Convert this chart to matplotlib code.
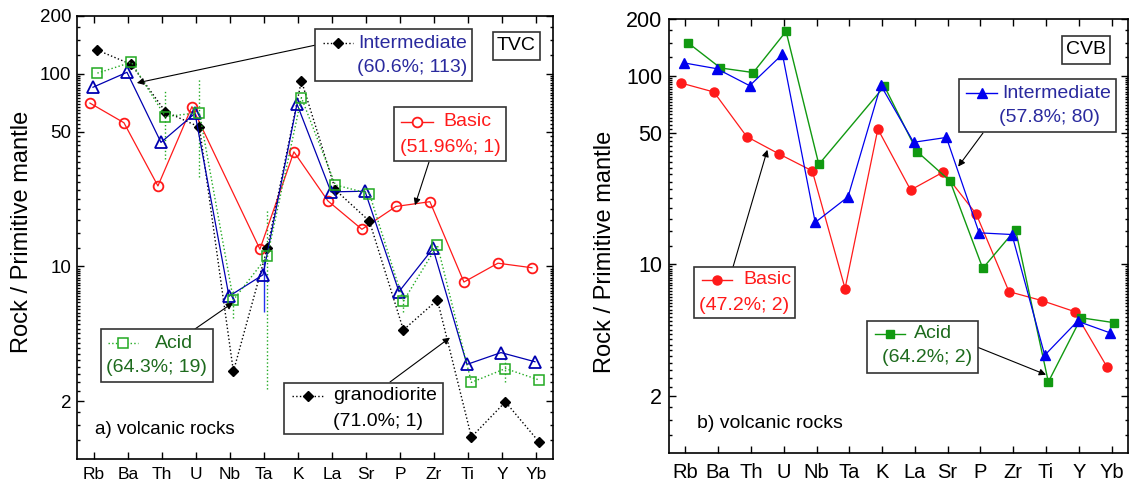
import numpy as np
import matplotlib
matplotlib.use("Agg")
import matplotlib.pyplot as plt
from matplotlib.patches import Rectangle
from matplotlib.lines import Line2D
from matplotlib.ticker import FixedLocator, LogLocator, FuncFormatter, NullFormatter

plt.rcParams['font.family'] = ['Liberation Sans', 'DejaVu Sans']

# element order on both spider diagrams
elements = ["Rb", "Ba", "Th", "U", "Nb", "Ta", "K", "La", "Sr", "P", "Zr", "Ti", "Y", "Yb"]

# a) TVC volcanic rocks (normalised to primitive mantle)
tvc_basic = [70.6, 55.8, 26.2, 67.6, np.nan, 12.3, 39.4, 21.9, 15.6, 20.5, 21.7, 8.3, 10.4, 9.85]
tvc_inter = [85.3, 102, 44.1, 62.4, 7.0, 9.05, 69.8, 24.4, 24.6, 7.4, 12.4, 3.10, 3.57, 3.20]
tvc_acid = [101, 115, 60, 63, 6.7, 11.3, 75.3, 26.5, 23.9, 6.6, 12.9, 2.50, 2.95, 2.57]
tvc_grano = [133, 112, 63.7, 53, 2.85, 12.5, 92.3, 25, 17.2, 4.68, 6.7, 1.30, 1.98, 1.22]
# error ranges (low, high) drawn as thin vertical bars
tvc_acid_lo = [np.nan, np.nan, 36, 29, 5.4, 2.3, np.nan, np.nan, np.nan, 5.8, np.nan, np.nan, 2.5, np.nan]
tvc_acid_hi = [np.nan, np.nan, 83, 95, 7.5, 20, np.nan, np.nan, np.nan, 7.3, np.nan, np.nan, 3.5, np.nan]
tvc_inter_lo = [np.nan] * 5 + [5.8] + [np.nan] * 8
tvc_inter_hi = [np.nan] * 5 + [10.9] + [np.nan] * 8

# b) CVB volcanic rocks
cvb_basic = [91.5, 82, 47.6, 38.4, 31.3, 7.45, 52.2, 24.8, 30.9, 18.5, 7.17, 6.43, 5.62, 2.84]
cvb_inter = [117, 109, 88.6, 130, 16.7, 22.8, 89, 44.4, 47.1, 14.7, 14.4, 3.3, 5.0, 4.33]
cvb_acid = [150, 110, 104, 172, 33.9, np.nan, 88, 39.6, 27.7, 9.53, 15.3, 2.38, 5.21, 4.91]

W, H = 1138, 492
fig = plt.figure(figsize=(W / 100, H / 100), dpi=100)


def fx(x):
    return x / W


def fy(y):
    return 1 - y / H


def series(ax, vals, off, **kw):
    v = np.array(vals, dtype=float)
    x = np.arange(len(v)) + off
    m = ~np.isnan(v)
    ax.plot(x[m], v[m], **kw)


def errbars(ax, lo, hi, off, **kw):
    lo = np.array(lo, dtype=float)
    hi = np.array(hi, dtype=float)
    x = np.arange(len(lo)) + off
    m = ~np.isnan(lo)
    ax.vlines(x[m], lo[m], hi[m], **kw)


def setup(ax, tick_fs, x_fs, pad_y, pad_x):
    ax.set_yscale('log')
    ax.set_ylim(1, 200)
    ax.set_xlim(-0.5, len(elements) - 0.5)
    ax.set_xticks(range(len(elements)))
    ax.set_xticklabels(elements, fontsize=x_fs)
    ax.yaxis.set_major_locator(FixedLocator([2, 10, 50, 100, 200]))
    ax.yaxis.set_major_formatter(FuncFormatter(lambda v, p: f"{v:g}"))
    ax.yaxis.set_minor_locator(LogLocator(base=10, subs=np.arange(1.25, 10, 0.25), numticks=200))
    ax.yaxis.set_minor_formatter(NullFormatter())
    ax.tick_params(which='both', direction='in', top=True, right=True, width=1)
    ax.tick_params(which='major', length=5)
    ax.tick_params(which='minor', length=2.5)
    ax.tick_params(axis='y', labelsize=tick_fs, pad=pad_y)
    ax.tick_params(axis='x', pad=pad_x)
    for s in ax.spines.values():
        s.set_linewidth(1.2)


def legend_box(rect, handle, lines, fs=14):
    x0, y0, x1, y1 = rect
    fig.patches.append(Rectangle((fx(x0), fy(y1)), fx(x1) - fx(x0), fy(y0) - fy(y1),
                                 transform=fig.transFigure, fc='white', ec='#333333', lw=1.2, zorder=5))
    if handle is not None:
        (hx0, hx1, hy), line_kw, mark_kw = handle
        fig.lines.append(Line2D([fx(hx0), fx(hx1)], [fy(hy), fy(hy)], transform=fig.transFigure,
                                zorder=6, **line_kw))
        fig.lines.append(Line2D([fx((hx0 + hx1) / 2)], [fy(hy)], transform=fig.transFigure,
                                zorder=7, linestyle='none', **mark_kw))
    for (tx, ty, s, ha, c) in lines:
        fig.text(fx(tx), fy(ty), s, ha=ha, va='center', color=c, fontsize=fs, zorder=8)


def arrow(ax, xy, start):
    ax.annotate('', xy=xy, xycoords='data', xytext=(fx(start[0]), fy(start[1])),
                textcoords='figure fraction',
                arrowprops=dict(arrowstyle='-|>', color='black', lw=0.8, mutation_scale=10,
                                shrinkA=0, shrinkB=0), zorder=4)


# ---------------- panel a) TVC ----------------
ax1 = fig.add_axes([fx(77), fy(459), fx(553) - fx(77), fy(16) - fy(459)])
c_red, c_blue, c_green = '#ff1a1a', '#0000b0', '#22aa22'
errbars(ax1, tvc_acid_lo, tvc_acid_hi, 0.09, colors=c_green, linestyles=':', lw=1)
errbars(ax1, tvc_inter_lo, tvc_inter_hi, 0.0, colors='#2233ee', lw=1)
series(ax1, tvc_basic, -0.12, color=c_red, lw=0.9, marker='o', mfc='none', mec=c_red, ms=7, mew=1.3)
series(ax1, tvc_grano, 0.1, color='black', lw=1, ls=':', marker='D', ms=5, mfc='black', mec='black')
series(ax1, tvc_inter, -0.03, color=c_blue, lw=0.9, marker='^', mfc='none', mec=c_blue, ms=8, mew=1.3)
series(ax1, tvc_acid, 0.1, color=c_green, lw=1, ls=':', marker='s', mfc='none', mec=c_green, ms=7, mew=1.1)
setup(ax1, 13.5, 12.5, 4, 6)

arrow(ax1, (1.26, 89.8), (316, 45))
arrow(ax1, (9.44, 20.8), (429, 162))
arrow(ax1, (4.09, 6.49), (195, 329))
arrow(ax1, (10.47, 4.27), (390, 382))

t_blue, t_green = '#2a2a9e', '#1e6b1e'
legend_box((493, 32, 540, 60), None, [(516.5, 46, "TVC", 'center', 'black')])
legend_box((315, 29, 472, 81),
           ((323, 353, 43), dict(color='black', ls=':', lw=1),
            dict(marker='D', ms=5, color='black')),
           [(467, 43, "Intermediate", 'right', t_blue), (467, 67, "(60.6%; 113)", 'right', t_blue)])
legend_box((394, 107, 506, 161),
           ((401, 433, 122), dict(color=c_red, lw=1),
            dict(marker='o', mfc='white', mec=c_red, ms=7, mew=1.3)),
           [(443, 122, "Basic", 'left', c_red), (450, 147, "(51.96%; 1)", 'center', c_red)])
legend_box((101, 329, 213, 382),
           ((108, 138, 343), dict(color=c_green, ls=':', lw=1),
            dict(marker='s', mfc='white', mec=c_green, ms=7, mew=1.1)),
           [(155, 343, "Acid", 'left', t_green), (156, 367, "(64.3%; 19)", 'center', t_green)])
legend_box((284, 383, 443, 434),
           ((292, 323, 396), dict(color='black', ls=':', lw=1),
            dict(marker='D', ms=5, color='black')),
           [(333, 396, "granodiorite", 'left', 'black'), (333, 421, "(71.0%; 1)", 'left', 'black')])
fig.text(fx(95), fy(430), "a) volcanic rocks", ha='left', va='center', fontsize=13.5)
fig.text(fx(22), fy(232), "Rock / Primitive mantle", rotation=90, ha='center', va='center', fontsize=17)

# ---------------- panel b) CVB ----------------
ax2 = fig.add_axes([fx(669), fy(453), fx(1128) - fx(669), fy(19) - fy(453)])
r_red, r_blue, r_green = '#ff1a1a', '#0000ee', '#119911'
series(ax2, cvb_basic, -0.13, color=r_red, lw=0.9, marker='o', ms=6.5, mfc=r_red, mec=r_red)
series(ax2, cvb_acid, 0.07, color=r_green, lw=1, marker='s', ms=5.5, mfc=r_green, mec=r_green)
series(ax2, cvb_inter, -0.04, color=r_blue, lw=0.9, marker='^', ms=7.5, mfc=r_blue, mec=r_blue)
setup(ax2, 15.5, 14.5, 5, 7)

arrow(ax2, (8.32, 33), (983, 133))
arrow(ax2, (2.5, 40.5), (733, 267))
arrow(ax2, (11.0, 2.6), (977, 347))

legend_box((1062, 36, 1110, 64), None, [(1086, 50, "CVB", 'center', 'black')])
legend_box((959, 79, 1116, 132),
           ((966, 997, 93), dict(color=r_blue, lw=1),
            dict(marker='^', ms=7.5, color=r_blue)),
           [(1002, 93, "Intermediate", 'left', t_blue), (1049, 118, "(57.8%; 80)", 'center', t_blue)])
legend_box((694, 267, 795, 318),
           ((702, 732, 280), dict(color=r_red, lw=1),
            dict(marker='o', ms=6.5, color=r_red)),
           [(743, 280, "Basic", 'left', r_red), (744, 305, "(47.2%; 2)", 'center', r_red)])
legend_box((867, 321, 978, 373),
           ((875, 905, 334), dict(color=r_green, lw=1),
            dict(marker='s', ms=5.5, color=r_green)),
           [(914, 334, "Acid", 'left', t_green), (927, 358, "(64.2%; 2)", 'center', t_green)])
fig.text(fx(697), fy(423), "b) volcanic rocks", ha='left', va='center', fontsize=14)
fig.text(fx(605), fy(252), "Rock / Primitive mantle", rotation=90, ha='center', va='center', fontsize=17)

fig.savefig("out.png", dpi=100)
